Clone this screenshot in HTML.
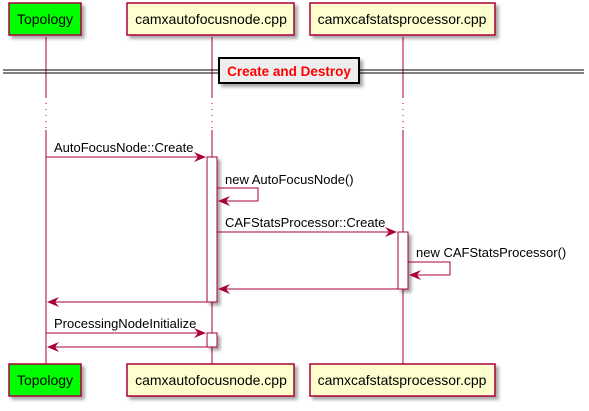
<!DOCTYPE html>
<html><head><style>body{margin:0;background:#fff}</style></head><body>
<svg width="589" height="406" xmlns="http://www.w3.org/2000/svg" font-family="Liberation Sans, sans-serif" font-size="13">
<defs>
<filter id="sh" x="-10%" y="-10%" width="130%" height="140%"><feDropShadow dx="3" dy="3" stdDeviation="1.5" flood-color="#000" flood-opacity="0.35"/></filter>
</defs>
<g stroke="#A80036" stroke-width="1">
<line x1="46" y1="37" x2="46" y2="97"/><line x1="46" y1="130" x2="46" y2="364" />
<line x1="212" y1="37" x2="212" y2="97"/><line x1="212" y1="130" x2="212" y2="364"/>
<line x1="403" y1="37" x2="403" y2="97"/><line x1="403" y1="130" x2="403" y2="364"/>
<line x1="46" y1="97" x2="46" y2="130" stroke-dasharray="1,5"/>
<line x1="212" y1="97" x2="212" y2="130" stroke-dasharray="1,5"/>
<line x1="403" y1="97" x2="403" y2="130" stroke-dasharray="1,5"/>
</g>
<g stroke="#A80036" stroke-width="1.5" filter="url(#sh)">
<rect x="9" y="3" width="72" height="32" fill="#00FF00"/>
<rect x="127" y="3" width="167" height="32" fill="#FEFECE"/>
<rect x="310" y="3" width="185" height="32" fill="#FEFECE"/>
<rect x="9" y="364" width="72" height="32" fill="#00FF00"/>
<rect x="127" y="364" width="167" height="32" fill="#FEFECE"/>
<rect x="310" y="364" width="185" height="32" fill="#FEFECE"/>
</g>
<g font-size="14" fill="#000" text-anchor="middle">
<text x="45" y="24">Topology</text><text x="211" y="24">camxautofocusnode.cpp</text><text x="402" y="24">camxcafstatsprocessor.cpp</text>
<text x="45" y="385">Topology</text><text x="211" y="385">camxautofocusnode.cpp</text><text x="402" y="385">camxcafstatsprocessor.cpp</text>
</g>
<g stroke="#000" stroke-width="1"><line x1="3" y1="70" x2="584" y2="70"/><line x1="3" y1="73" x2="584" y2="73"/></g>
<rect x="219" y="58" width="140" height="25" fill="#EEEEEE" stroke="#000" stroke-width="2" filter="url(#sh)"/>
<text x="289" y="76" text-anchor="middle" fill="#FF0000" font-weight="bold" font-size="13.5">Create and Destroy</text>
<g stroke="#A80036" stroke-width="1" fill="#fff" filter="url(#sh)">
<rect x="207" y="157" width="10" height="145"/>
<rect x="398" y="232" width="10" height="57"/>
<rect x="207" y="333" width="10" height="14"/>
</g>
<g stroke="#A80036" stroke-width="1" fill="none">
<line x1="46" y1="157" x2="205" y2="157"/>
<polyline points="217,188 258,188 258,201 219,201"/>
<line x1="217" y1="232" x2="396" y2="232"/>
<polyline points="408,262 450,262 450,275 410,275"/>
<line x1="220" y1="289" x2="398" y2="289"/>
<line x1="48" y1="302" x2="207" y2="302"/>
<line x1="46" y1="333" x2="205" y2="333"/>
<line x1="48" y1="347" x2="207" y2="347"/>
</g>
<g fill="#A80036">
<polygon points="206,157 194,152 198,157 194,162"/>
<polygon points="218,201 230,196 226,201 230,206"/>
<polygon points="397,232 385,227 389,232 385,237"/>
<polygon points="409,275 421,270 417,275 421,280"/>
<polygon points="218,289 230,284 226,289 230,294"/>
<polygon points="47,302 59,297 55,302 59,307"/>
<polygon points="206,333 194,328 198,333 194,338"/>
<polygon points="47,347 59,342 55,347 59,352"/>
</g>
<g font-size="13" fill="#000">
<text x="54" y="152">AutoFocusNode::Create</text>
<text x="225" y="184">new AutoFocusNode()</text>
<text x="225" y="227">CAFStatsProcessor::Create</text>
<text x="416" y="257">new CAFStatsProcessor()</text>
<text x="54" y="328">ProcessingNodeInitialize</text>
</g>
</svg>
</body></html>
